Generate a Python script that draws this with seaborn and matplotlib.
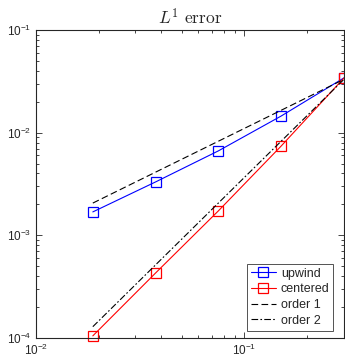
import numpy as np
import pandas as pd
import matplotlib
matplotlib.use("Agg")
import matplotlib.pyplot as plt
from matplotlib.ticker import LogLocator, NullFormatter
import seaborn as sns

# mesh sizes and errors
h = [0.01875, 0.0375, 0.075, 0.15, 0.3]
err_upwind = [1.69e-3, 3.31e-3, 6.64e-3, 1.45e-2, 3.41e-2]
err_centered = [1.05e-4, 4.3e-4, 1.73e-3, 7.4e-3, 3.4e-2]

# reference slopes (end points only)
h_ref = [0.01875, 0.3]
order1 = [2.06e-3, 3.3e-2]
order2 = [1.29e-4, 3.3e-2]

sns.set_style("ticks")
plt.rcParams["font.family"] = ["Liberation Sans", "DejaVu Sans"]
plt.rcParams["axes.edgecolor"] = "0.15"
plt.rcParams["xtick.color"] = "0.15"
plt.rcParams["ytick.color"] = "0.15"

fig = plt.figure(figsize=(3.45, 3.6), dpi=100)
ax = fig.add_axes([0.104, 0.061, 0.893, 0.856])

df_up = pd.DataFrame({"h": h, "err": err_upwind})
df_ce = pd.DataFrame({"h": h, "err": err_centered})
df_o1 = pd.DataFrame({"h": h_ref, "err": order1})
df_o2 = pd.DataFrame({"h": h_ref, "err": order2})

mk = dict(marker="s", markersize=7, markerfacecolor="none", markeredgewidth=0.9)
sns.lineplot(data=df_up, x="h", y="err", ax=ax, color="b", lw=0.8,
             label="upwind", markeredgecolor="b", clip_on=False, **mk)
sns.lineplot(data=df_ce, x="h", y="err", ax=ax, color="r", lw=0.8,
             label="centered", markeredgecolor="r", clip_on=False, **mk)
sns.lineplot(data=df_o1, x="h", y="err", ax=ax, color="k", lw=0.8,
             label="order 1", dashes=False, linestyle=(0, (6, 3)))
sns.lineplot(data=df_o2, x="h", y="err", ax=ax, color="k", lw=0.8,
             label="order 2", dashes=False, linestyle=(0, (6, 2, 1.5, 2)))

ax.set_xscale("log")
ax.set_yscale("log")
ax.set_xlim(1e-2, 0.3)
ax.set_ylim(1e-4, 1e-1)
ax.set_xlabel("")
ax.set_ylabel("")
ax.set_title(r"$L^1\ \mathrm{error}$", fontsize=12.5, math_fontfamily="cm", pad=4)

for axis in (ax.xaxis, ax.yaxis):
    axis.set_major_locator(LogLocator(base=10))
    axis.set_minor_locator(LogLocator(base=10, subs=np.arange(2, 10), numticks=20))
    axis.set_minor_formatter(NullFormatter())

for s in ax.spines.values():
    s.set_visible(True)
    s.set_linewidth(0.8)
ax.tick_params(which="both", direction="in", top=True, right=True,
               labelsize=8.5, width=0.6)
ax.tick_params(which="major", length=4)
ax.tick_params(which="minor", length=2)

leg = ax.legend(loc="lower right", fontsize=9, frameon=True, fancybox=False,
                edgecolor="0.15", handlelength=2.0, borderpad=0.3,
                labelspacing=0.3, handletextpad=0.4, borderaxespad=0.6,
                bbox_to_anchor=(0.99, 0.0))
leg.get_frame().set_linewidth(0.7)

fig.savefig("out.png", dpi=100)
